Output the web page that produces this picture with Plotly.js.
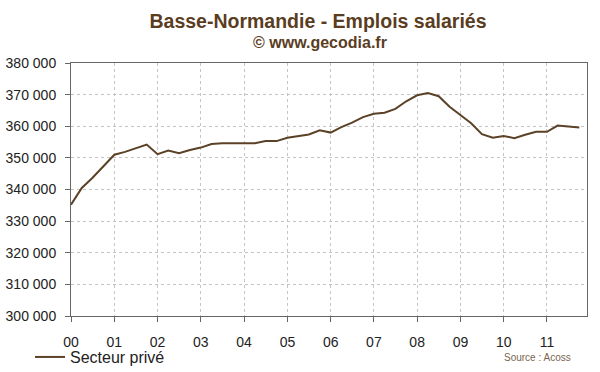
<!DOCTYPE html>
<html>
<head>
<meta charset="utf-8">
<script src="https://cdn.plot.ly/plotly-3.0.1.min.js"></script>
<style>
html,body{margin:0;padding:0;background:#fff;}
#chart{width:600px;height:372px;}
</style>
</head>
<body>
<div id="chart"></div>
<script>
// Quarterly dates (start of quarter)
const quarters = [
  '2000-01-01','2000-04-01','2000-07-01','2000-10-01',
  '2001-01-01','2001-04-01','2001-07-01','2001-10-01',
  '2002-01-01','2002-04-01','2002-07-01','2002-10-01',
  '2003-01-01','2003-04-01','2003-07-01','2003-10-01',
  '2004-01-01','2004-04-01','2004-07-01','2004-10-01',
  '2005-01-01','2005-04-01','2005-07-01','2005-10-01',
  '2006-01-01','2006-04-01','2006-07-01','2006-10-01',
  '2007-01-01','2007-04-01','2007-07-01','2007-10-01',
  '2008-01-01','2008-04-01','2008-07-01','2008-10-01',
  '2009-01-01','2009-04-01','2009-07-01','2009-10-01',
  '2010-01-01','2010-04-01','2010-07-01','2010-10-01',
  '2011-01-01','2011-04-01','2011-07-01','2011-10-01'
];
// Secteur privé – emplois salariés
const secteurPrive = [
  335200, 340500, 343700, 347400,
  351000, 351900, 353150, 354200,
  351150, 352300, 351450, 352500,
  353250, 354400, 354600, 354600,
  354400, 354600, 355300, 355300,
  356350, 356800, 357400, 358750,
  358000, 359700, 361150, 362900,
  363950, 364300, 365500, 367900,
  369800, 370500, 369500, 366150,
  363550, 360950, 357500, 356350,
  356950, 356250, 357300, 358250,
  358250, 360200, 359900, 359600
];
const seriesName = 'Secteur privé';
const yTicks = [300000,310000,320000,330000,340000,350000,360000,370000,380000];
const yTickText = ['300 000','310 000','320 000','330 000','340 000','350 000','360 000','370 000','380 000'];
const xTicks = ['2000-01-01','2001-01-01','2002-01-01','2003-01-01','2004-01-01','2005-01-01','2006-01-01','2007-01-01','2008-01-01','2009-01-01','2010-01-01','2011-01-01'];
const xTickText = ['00','01','02','03','04','05','06','07','08','09','10','11'];

const font = 'Liberation Sans, Arial, sans-serif';
const brown = '#5a3d1f';

const trace = {
  x: quarters, y: secteurPrive, type: 'scatter', mode: 'lines',
  name: seriesName,
  line: {color: '#5b4227', width: 2}
};

const layout = {
  width: 600, height: 372,
  margin: {l: 71, r: 13, t: 63, b: 56, autoexpand: false},
  paper_bgcolor: '#fff', plot_bgcolor: '#fff',
  font: {family: font, color: '#222', size: 13},
  title: {
    text: 'Basse-Normandie - Emplois salariés',
    font: {family: font, size: 19.5, color: brown, weight: 'bold'},
    x: 0.53, xref: 'container', xanchor: 'center',
    y: 0.944, yref: 'container', yanchor: 'middle'
  },
  annotations: [
    {text: '© www.gecodia.fr', showarrow: false, xref: 'paper', yref: 'paper',
     x: (320-71)/516, xanchor: 'center', y: (316-43)/252.7, yanchor: 'middle',
     font: {family: font, size: 16, color: brown, weight: 'bold'}},
    {text: 'Source : Acoss', showarrow: false, xref: 'paper', yref: 'paper',
     x: (502-71)/516, xanchor: 'left', y: -(357-316)/252.7, yanchor: 'middle',
     font: {family: font, size: 10, color: '#7a6550'}}
  ],
  showlegend: true,
  legend: {
    x: (30-71)/516, xanchor: 'left', y: -(357-316)/252.7, yanchor: 'middle',
    orientation: 'h', bgcolor: 'rgba(0,0,0,0)',
    font: {family: font, size: 16, color: '#222'}
  },
  xaxis: {
    type: 'date',
    range: ['2000-01-01', '2011-12-05'],
    tickvals: xTicks, ticktext: xTickText,
    showgrid: true, gridcolor: '#c4c4c4', griddash: 'dot', gridwidth: 1,
    showline: true, linecolor: '#666', linewidth: 1, mirror: true,
    ticks: 'outside', ticklen: 5, tickcolor: '#666',
    ticklabelstandoff: 8,
    tickfont: {family: font, size: 14, color: '#222'},
    zeroline: false, fixedrange: true
  },
  yaxis: {
    range: [300000, 380000],
    tickvals: yTicks, ticktext: yTickText,
    showgrid: true, gridcolor: '#c4c4c4', griddash: 'dot', gridwidth: 1,
    showline: true, linecolor: '#666', linewidth: 1, mirror: true,
    ticks: 'outside', ticklen: 5, tickcolor: '#666',
    ticklabelstandoff: 6,
    tickfont: {family: font, size: 14, color: '#222'},
    zeroline: false, fixedrange: true
  }
};

Plotly.newPlot('chart', [trace], layout, {displayModeBar: false, staticPlot: true});
</script>
</body>
</html>
